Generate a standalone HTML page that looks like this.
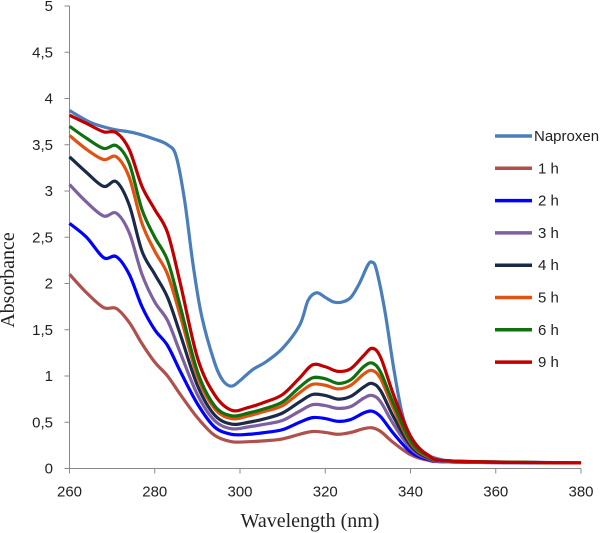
<!DOCTYPE html>
<html><head><meta charset="utf-8"><style>
body{margin:0;background:#fff;}
svg{display:block;}
.tk{font-family:"Liberation Sans",sans-serif;font-size:15px;fill:#222;}
.ti{font-family:"Liberation Serif",serif;font-size:20px;fill:#222;}
</style></head><body>
<svg id="chart" width="605" height="533">
<g id="axes"></g>
<g id="series"></g>
<g id="legend"></g>
<text class="ti" x="14" y="280" text-anchor="middle" transform="rotate(-90 14 280)">Absorbance</text>
<text class="ti" x="310" y="527" text-anchor="middle">Wavelength (nm)</text>
</svg>
<script>
const xTicks=[260,280,300,320,340,360,380];
const yTicks=[0,0.5,1,1.5,2,2.5,3,3.5,4,4.5,5];
const yTickLabels=["0","0,5","1","1,5","2","2,5","3","3,5","4","4,5","5"];
const naproxenX=[260,265,270,275,280,283,285,287,289,291,294,296,298,300,303,306,310,314,316,318,320,322,324,326,328,330,331,332,334,336,338,340,343,346,350,360,380];
const naproxenY=[3.87,3.74,3.67,3.63,3.56,3.5,3.38,2.9,2.2,1.65,1.15,0.95,0.89,0.95,1.07,1.15,1.3,1.55,1.82,1.9,1.85,1.8,1.8,1.85,2.0,2.2,2.23,2.15,1.7,1.1,0.6,0.35,0.18,0.11,0.08,0.07,0.06];
const hX=[260,264,268,271,274,277,280,283,286,290,294,298,302,306,310,314,317,320,323,326,329,331,333,336,340,344,350,380];
const h1=[2.1,1.9,1.74,1.73,1.58,1.35,1.15,1.0,0.8,0.55,0.36,0.29,0.29,0.3,0.32,0.37,0.4,0.39,0.37,0.39,0.43,0.44,0.4,0.28,0.15,0.09,0.07,0.06];
const h2=[2.65,2.5,2.28,2.29,2.1,1.75,1.5,1.33,1.05,0.7,0.45,0.37,0.37,0.39,0.42,0.5,0.55,0.54,0.51,0.53,0.6,0.62,0.56,0.38,0.18,0.1,0.07,0.06];
const h3=[3.07,2.88,2.73,2.76,2.55,2.1,1.8,1.6,1.25,0.8,0.52,0.43,0.45,0.48,0.52,0.62,0.69,0.68,0.65,0.67,0.76,0.79,0.72,0.48,0.22,0.11,0.07,0.06];
const h4=[3.37,3.2,3.05,3.1,2.85,2.35,2.1,1.85,1.45,0.9,0.58,0.48,0.5,0.54,0.6,0.72,0.8,0.79,0.75,0.78,0.88,0.92,0.84,0.56,0.25,0.12,0.08,0.06];
const h5=[3.6,3.45,3.34,3.37,3.15,2.65,2.35,2.1,1.65,1.0,0.65,0.54,0.57,0.62,0.68,0.82,0.91,0.9,0.86,0.9,1.02,1.06,0.97,0.65,0.28,0.13,0.08,0.06];
const h6=[3.7,3.57,3.46,3.49,3.3,2.8,2.5,2.25,1.75,1.05,0.68,0.57,0.6,0.65,0.72,0.88,0.98,0.97,0.92,0.96,1.1,1.14,1.04,0.7,0.3,0.14,0.08,0.06];
const h9=[3.82,3.73,3.64,3.63,3.45,3.05,2.8,2.55,2.0,1.2,0.8,0.63,0.66,0.72,0.8,0.98,1.12,1.1,1.05,1.08,1.22,1.3,1.2,0.8,0.35,0.15,0.08,0.06];
const seriesNames=["Naproxen","1 h","2 h","3 h","4 h","5 h","6 h","9 h"];
const seriesColors=["#4a7ebb","#b0504d","#0000ff","#7e5fa0","#1a2a48","#e0520f","#107010","#c00000"];
const NS="http://www.w3.org/2000/svg";
const X0=69.5,X1=581,Y0=468.5,Y1=6;
const sx=v=>X0+(v-260)/120*(X1-X0);
const sy=v=>Y0-(v/5)*(Y0-Y1);
function mk(t,a,p){const e=document.createElementNS(NS,t);for(const k in a)e.setAttribute(k,a[k]);p.appendChild(e);return e;}
const axes=document.getElementById('axes');
let yl=mk('line',{x1:X0,y1:Y1,x2:X0,y2:Y0,stroke:'#888','stroke-width':1},axes);


let xl=mk('line',{x1:X0,y1:Y0,x2:X1,y2:Y0,stroke:'#888','stroke-width':1},axes);


yTicks.forEach((v,i)=>{
 mk('line',{x1:X0-5,y1:sy(v),x2:X0,y2:sy(v),stroke:'#888'},axes);
 const t=mk('text',{x:53,y:sy(v)+5,'text-anchor':'end',class:'tk'},axes);
 t.textContent=yTickLabels[i];
 
 
});
xTicks.forEach(v=>{
 mk('line',{x1:sx(v),y1:Y0,x2:sx(v),y2:Y0+5,stroke:'#888'},axes);
 const t=mk('text',{x:sx(v),y:Y0+28,'text-anchor':'middle',class:'tk'},axes);
 t.textContent=String(v);
 
 
});
function path(xs,ys){
 const p=xs.map((x,i)=>[sx(x),sy(ys[i])]);
 let d='M'+p[0][0]+','+p[0][1];
 for(let i=0;i<p.length-1;i++){
  const p0=p[i-1]||p[i],p1=p[i],p2=p[i+1],p3=p[i+2]||p2;
  const c1=[p1[0]+(p2[0]-p0[0])/6,p1[1]+(p2[1]-p0[1])/6];
  const c2=[p2[0]-(p3[0]-p1[0])/6,p2[1]-(p3[1]-p1[1])/6];
  d+=' C'+c1+' '+c2+' '+p2;
 }
 return d;
}
const data=[[naproxenX,naproxenY],[hX,h1],[hX,h2],[hX,h3],[hX,h4],[hX,h5],[hX,h6],[hX,h9]];
const sg=document.getElementById('series');
data.forEach((s,i)=>{
 const e=mk('path',{d:path(s[0],s[1]),fill:'none',stroke:seriesColors[i],'stroke-width':3.2,'stroke-linejoin':'round'},sg);
 
 
});
const lg=document.getElementById('legend');
seriesNames.forEach((n,i)=>{
 const y=136+i*32.3;
 const g=mk('g',{},lg);
 
 
 mk('line',{x1:495,y1:y,x2:532,y2:y,stroke:seriesColors[i],'stroke-width':3.5},g);
 const t=mk('text',{x:i===0?534:538,y:y+5,class:'tk'},g);
 t.textContent=n;
});
</script>
</body></html>
